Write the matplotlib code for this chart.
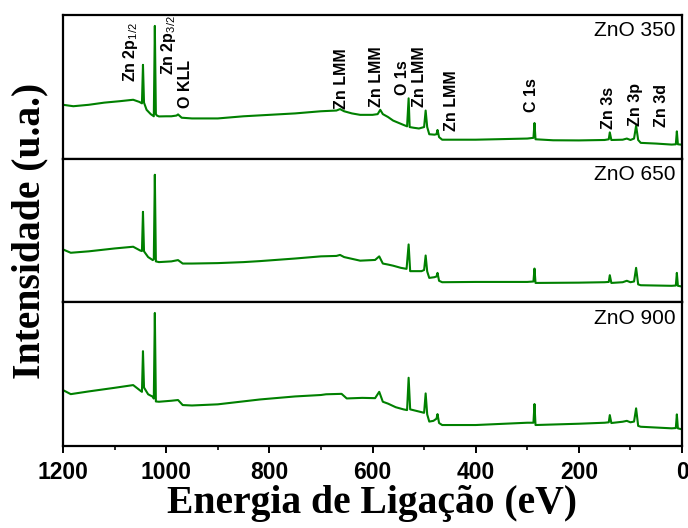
import matplotlib
matplotlib.use("Agg")
import matplotlib.pyplot as plt
from matplotlib.ticker import MultipleLocator

# ---------------------------------------------------------------------------
# Espectros XPS (energia de ligação em eV, intensidade em u.a.)
energy_350 = [1200, 1180, 1150, 1120, 1090, 1064, 1052, 1047, 1045, 1043, 1038, 1030, 1024, 1022, 1020,
              1018, 1014, 1000, 990, 980, 977, 970, 950, 900, 850, 800, 750, 700, 670, 663, 655, 640,
              624, 600, 590, 585, 580, 570, 560, 550, 540, 533, 530, 528, 520, 510, 500, 497, 494,
              490, 480, 476, 474, 471, 465, 400, 300, 288, 286, 284, 250, 200, 150, 142, 140, 137,
              115, 107, 100, 93, 89, 85, 80, 50, 20, 12, 10, 8, 0]
inten_350 = [37.5, 36.5, 37.5, 39, 40, 41, 39.5, 38.5, 65.3, 39, 34, 31, 29.5, 92.4, 31,
             30, 29.4, 29.5, 29.5, 30, 30.8, 28.5, 28, 28, 29.5, 30.5, 31.5, 33, 33.5, 34.5, 33, 31.5,
             30.5, 30.5, 31, 34, 31, 29, 26.5, 25, 23.5, 22.5, 42, 22, 21.5, 21, 22, 33.5, 22,
             17, 16.7, 17, 20, 15, 13.2, 13.2, 14, 14.5, 24.8, 13.5, 12.8, 12.7, 13, 13.5, 18.3, 13,
             13.2, 14, 13, 14, 22.9, 13, 11, 10.5, 9.8, 10, 19, 10, 9.7]

energy_650 = [1200, 1185, 1150, 1100, 1064, 1050, 1047, 1045, 1043, 1035, 1026, 1024, 1022, 1020,
              1014, 990, 977, 968, 950, 900, 850, 818, 750, 700, 670, 663, 655, 624, 595, 587, 580,
              570, 560, 545, 534, 530, 527, 505, 500, 497, 494, 490, 480, 476, 474, 471, 465, 400,
              300, 288, 286, 284, 200, 150, 142, 140, 137, 115, 107, 100, 93, 89, 85, 80, 20, 12,
              10, 8, 0]
inten_650 = [36.8, 34.5, 35.5, 37.5, 38.7, 36, 35.7, 63, 35.5, 31.5, 29.4, 30, 88.8, 28.5,
             28, 28.5, 29.4, 27, 27, 27.3, 28, 28.7, 30.5, 32, 32.3, 33, 31.5, 29, 29.5, 32, 27,
             26.3, 25.5, 24, 23.3, 40.3, 21.7, 21.7, 22.5, 32.6, 21.5, 17, 17.5, 18, 20.5, 15, 14, 14.2,
             14.2, 14.5, 23.5, 13.5, 13.7, 14, 14.2, 18.9, 13.5, 14, 15, 14, 14.5, 24, 12.5, 11.9, 11.5, 11.7,
             20.5, 11.5, 11]

energy_900 = [1200, 1185, 1150, 1100, 1064, 1050, 1047, 1045, 1043, 1035, 1026, 1024, 1022, 1020,
              1014, 990, 977, 968, 950, 900, 818, 750, 700, 690, 660, 650, 620, 595, 587, 580, 570,
              555, 540, 533, 530, 527, 510, 500, 497, 494, 490, 482, 476, 474, 471, 465, 400, 300,
              288, 286, 284, 200, 150, 142, 140, 137, 115, 107, 100, 93, 89, 85, 80, 20, 12, 10, 8, 0]
inten_900 = [38.9, 36.1, 38, 40.5, 42.4, 38.5, 37.7, 66, 40.7, 36, 34.3, 33, 92.6, 31,
             30.8, 31.5, 32, 28.5, 28.2, 29, 32.4, 34.5, 35.5, 36, 36.3, 33.1, 33.5, 33.3, 37.7, 30.8, 29.5,
             27, 25.5, 25, 47.5, 25.5, 24, 23.1, 36.6, 22, 17, 17.5, 19, 22.2, 16, 14.6, 14.6, 16.2,
             16.2, 29.2, 14.6, 15.5, 16.2, 16.5, 21.5, 16, 16.9, 17.5, 16.5, 17, 26.2, 14, 13.4, 12.3, 12.5, 22, 12.3, 11.6]

samples = ["ZnO 350", "ZnO 650", "ZnO 900"]

# Identificação dos picos (só no painel de cima)
peak_labels = ["Zn 2p$_{1/2}$", "Zn 2p$_{3/2}$", "O KLL", "Zn LMM", "Zn LMM", "O 1s", "Zn LMM",
               "Zn LMM", "C 1s", "Zn 3s", "Zn 3p", "Zn 3d"]
peak_label_x = [1070, 996, 963, 661, 592, 541, 508, 446, 291, 143, 91, 39]
peak_label_y = [53.4, 58, 35, 34.8, 35.9, 44, 35.9, 19.6, 32.4, 20.8, 23, 21.9]
# ---------------------------------------------------------------------------

plt.rcParams['mathtext.fontset'] = 'custom'
plt.rcParams['mathtext.rm'] = 'Liberation Sans'
plt.rcParams['mathtext.it'] = 'Liberation Sans'
plt.rcParams['mathtext.bf'] = 'Liberation Sans:bold'

fig, axes = plt.subplots(3, 1, figsize=(6.88, 5.28), dpi=100, sharex=True)
fig.subplots_adjust(left=0.0916, right=0.9913, top=0.9716, bottom=0.1553, hspace=0)

spectra = [(energy_350, inten_350), (energy_650, inten_650), (energy_900, inten_900)]

for ax, (e, i), name in zip(axes, spectra, samples):
    ax.plot(e, i, color='green', linewidth=1.5)
    ax.set_ylim(0, 100)
    ax.set_yticks([])
    for s in ax.spines.values():
        s.set_linewidth(1.6)
    ax.text(0.990, 0.955, name, transform=ax.transAxes, ha='right', va='top',
            fontsize=15, family='Liberation Sans')
    ax.tick_params(axis='x', which='both', bottom=False, labelbottom=False)

ax = axes[-1]
ax.set_xlim(1200, 0)
ax.xaxis.set_major_locator(MultipleLocator(200))
ax.xaxis.set_minor_locator(MultipleLocator(100))
ax.tick_params(axis='x', which='major', bottom=True, labelbottom=True, direction='out',
               length=5, width=1.4, pad=6)
ax.tick_params(axis='x', which='minor', bottom=True, direction='out', length=3, width=1.2)
for lab in ax.get_xticklabels():
    lab.set_fontfamily('Liberation Sans')
    lab.set_fontweight('bold')
    lab.set_fontsize(16.5)

for txt, x, y in zip(peak_labels, peak_label_x, peak_label_y):
    axes[0].text(x, y, txt, rotation=90, ha='center', va='bottom', fontsize=11.5,
                 fontweight='bold', family='Liberation Sans')

fig.text(0.044, 0.563, "Intensidade (u.a.)", rotation=90, ha='center', va='center',
         fontsize=28.5, fontweight='bold', family='Liberation Serif')
fig.text(0.541, 0.047, "Energia de Ligação (eV)", ha='center', va='center',
         fontsize=28.5, fontweight='bold', family='Liberation Serif')

fig.savefig("out.png", dpi=100)
